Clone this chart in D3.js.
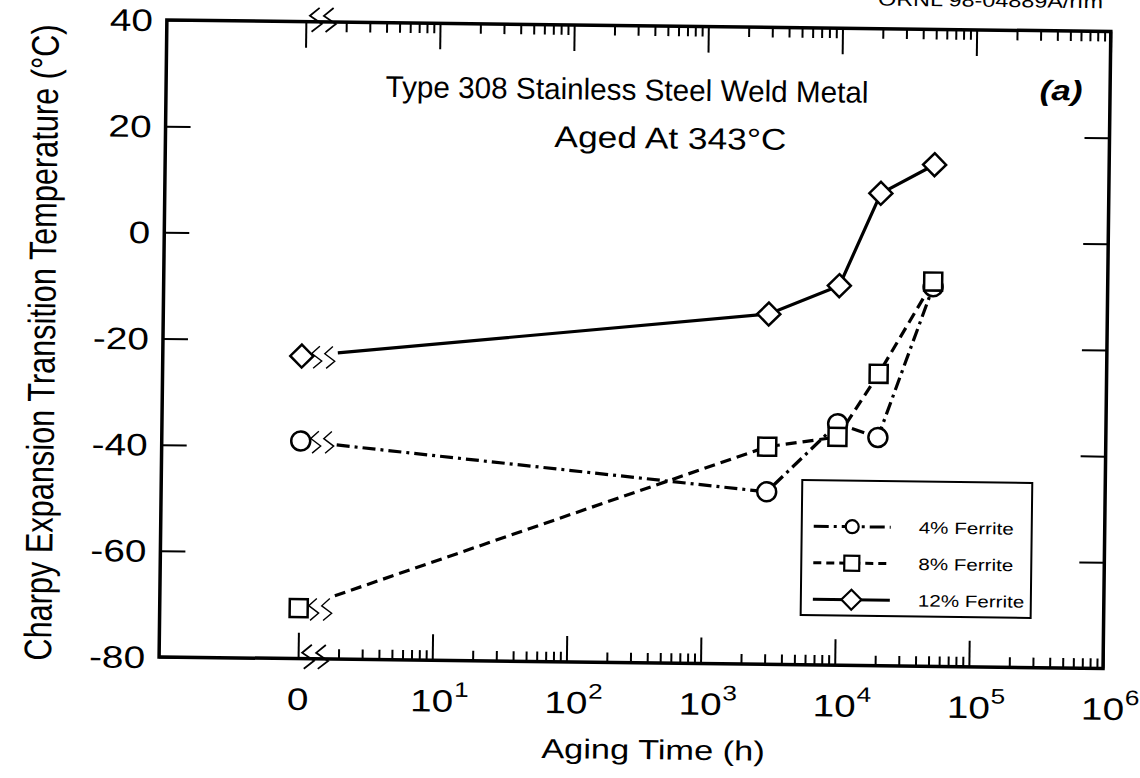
<!DOCTYPE html>
<html><head><meta charset="utf-8">
<script src="https://cdn.jsdelivr.net/npm/d3@7"></script>
<style>
html,body{margin:0;padding:0;background:#fff;}
svg{display:block;}
text{font-family:"Liberation Sans",Arial,Helvetica,sans-serif;fill:#000;}
</style></head><body>
<svg id="chart" width="1140" height="778"></svg>
<script>
// Aging times in hours (0 = unaged material, drawn at the axis break)
const agingTimes = [0, 3000, 10000, 20000, 50000];
const seriesNames = ["4% Ferrite", "8% Ferrite", "12% Ferrite"];
const ferrite4  = [-39, -47.5, -34.5, -37, -8.5];
const ferrite8  = [-70.5, -39, -37, -25, -7.5];
const ferrite12 = [-23, -14, -8.5, 9, 14.5];
const yTickValues = [40, 20, 0, -20, -40, -60, -80];
const xTickValues = [1, 10, 100, 1e3, 1e4, 1e5, 1e6];
const xTickBase = ["0", "10", "10", "10", "10", "10", "10"];
const xTickSup  = ["", "1", "2", "3", "4", "5", "6"];
const titleLines = ["Type 308 Stainless Steel Weld Metal", "Aged At 343\u00B0C"];

const SX = 1.25; // horizontal stretch of the lettering
const svg = d3.select("#chart");
svg.append("rect").attr("width", 1140).attr("height", 778).attr("fill", "#fff");
const g = svg.append("g").attr("transform", "rotate(0.7,632,340)");

const x = d3.scaleLog().domain([1, 1e6]).range([302, 1107]);
const y = d3.scaleLinear().domain([-80, 40]).range([662.7, 25.7]);
const xPos = t => x(t === 0 ? 1 : t);
const frameLeft = 163, frameRight = x(1e6), frameTop = y(40), frameBottom = y(-80);

function sText(parent, px, py, str, size, anchor, sx) {
  const gg = parent.append("g").attr("transform", `translate(${px},${py}) scale(${sx || SX},1)`);
  return gg.append("text").attr("font-size", size).attr("text-anchor", anchor).text(str);
}

// frame
g.append("rect").attr("x", frameLeft).attr("y", frameTop)
  .attr("width", frameRight - frameLeft).attr("height", frameBottom - frameTop)
  .attr("fill", "none").attr("stroke", "#000").attr("stroke-width", 3.5);

// log ticks
const minorVals = [];
for (let d = 0; d < 6; d++) for (let k = 2; k <= 9; k++) minorVals.push(k * Math.pow(10, d));

function styleAxis(sel) {
  sel.select(".domain").remove();
  sel.selectAll(".tick line").attr("stroke", "#000").attr("stroke-width", 2);
  sel.selectAll(".tick text").remove();
}
g.append("g").attr("transform", `translate(0,${frameBottom})`)
  .call(d3.axisTop(x).tickValues(xTickValues).tickSize(26).tickFormat("")).call(styleAxis);
g.append("g").attr("transform", `translate(0,${frameBottom})`)
  .call(d3.axisTop(x).tickValues(minorVals).tickSize(10).tickFormat("")).call(styleAxis);
g.append("g").attr("transform", `translate(0,${frameTop})`)
  .call(d3.axisBottom(x).tickValues(xTickValues).tickSize(26).tickFormat("")).call(styleAxis);
g.append("g").attr("transform", `translate(0,${frameTop})`)
  .call(d3.axisBottom(x).tickValues(minorVals).tickSize(10).tickFormat("")).call(styleAxis);
g.append("g").attr("transform", `translate(${frameLeft},0)`)
  .call(d3.axisRight(y).tickValues(yTickValues).tickSize(25).tickFormat("")).call(styleAxis);
g.append("g").attr("transform", `translate(${frameRight},0)`)
  .call(d3.axisLeft(y).tickValues(yTickValues).tickSize(25).tickFormat("")).call(styleAxis);

// break marks
function breakMark(parent, bx, by, h, w, sw) {
  const pts = [[0.8 * w, -h / 2], [0, -h / 6], [w, h / 6], [0.15 * w, h / 2]];
  parent.append("path")
    .attr("d", d3.line()(pts.map(p => [bx + p[0], by + p[1]])))
    .attr("fill", "none").attr("stroke", "#000").attr("stroke-width", sw);
}
[frameTop, frameBottom].forEach(yy => {
  breakMark(g, x(1) + 4, yy - 2, 24, 12, 1.8);
  breakMark(g, x(1) + 18, yy - 2, 24, 12, 1.8);
});

// tick labels
yTickValues.forEach(v => {
  sText(g, 149, y(v), String(v), 31, "end").attr("dy", "0.36em");
});
xTickValues.forEach((v, i) => {
  const gg = g.append("g").attr("transform", `translate(${x(v)},714) scale(${SX},1)`);
  const base = gg.append("text").attr("font-size", 31).attr("text-anchor", "middle").text(xTickBase[i]);
  if (xTickSup[i]) {
    const w = base.node().getComputedTextLength();
    gg.append("text").attr("font-size", 21).attr("x", w / 2 + 0.5).attr("y", -15).text(xTickSup[i]);
  }
});

// axis titles
sText(g, 658, 759, "Aging Time (h)", 27.5, "middle");
g.append("g").attr("transform", `translate(55,349.7) scale(${SX},1) rotate(-90)`)
  .append("text").attr("font-size", 30.7).attr("text-anchor", "middle")
  .text("Charpy Expansion Transition Temperature (\u00B0C)");

// chart title and panel label
sText(g, 624, 100, titleLines[0], 30, "middle", 1)
  .attr("textLength", 483).attr("lengthAdjust", "spacingAndGlyphs");
sText(g, 668, 148, titleLines[1], 30, "middle", 1)
  .attr("textLength", 232).attr("lengthAdjust", "spacingAndGlyphs");
sText(g, 1058, 95, "(a)", 28, "middle").attr("font-weight", "bold").attr("font-style", "italic");
sText(g, 1099, 2.5, "ORNL 98-04889A/rfm", 18.7, "end");

// series
const series = [
  { name: seriesNames[0], values: ferrite4, dash: "13,5,3,5", marker: "circle" },
  { name: seriesNames[1], values: ferrite8, dash: "11,6", marker: "square" },
  { name: seriesNames[2], values: ferrite12, dash: null, marker: "diamond" }
];
const breakGap = 36;
const lineGen = d3.line().x(d => d[0]).y(d => d[1]);

function drawMarker(parent, type, mx, my, size, sw) {
  if (type === "circle") {
    parent.append("circle").attr("cx", mx).attr("cy", my).attr("r", size / 2)
      .attr("fill", "#fff").attr("stroke", "#000").attr("stroke-width", sw);
  } else if (type === "square") {
    parent.append("rect").attr("x", mx - size / 2).attr("y", my - size / 2)
      .attr("width", size).attr("height", size)
      .attr("fill", "#fff").attr("stroke", "#000").attr("stroke-width", sw);
  } else {
    const h = size / 2;
    parent.append("path")
      .attr("d", `M${mx},${my - h}L${mx + h},${my}L${mx},${my + h}L${mx - h},${my}Z`)
      .attr("fill", "#fff").attr("stroke", "#000").attr("stroke-width", sw);
  }
}
const markerSize = { circle: 19, square: 18, diamond: 23 };

series.forEach(s => {
  const pts = agingTimes.map((t, i) => [xPos(t), y(s.values[i])]);
  const p0 = pts[0], p1 = pts[1];
  const sx = x(1) + breakGap;
  const f = (sx - p0[0]) / (p1[0] - p0[0]);
  const start = [sx, p0[1] + f * (p1[1] - p0[1])];
  const path = g.append("path").attr("d", lineGen([start].concat(pts.slice(1))))
    .attr("fill", "none").attr("stroke", "#000").attr("stroke-width", 3.2);
  if (s.dash) path.attr("stroke-dasharray", s.dash);
  breakMark(g, p0[0] + 10, p0[1] + 1, 22, 10, 1.4);
  breakMark(g, p0[0] + 23, p0[1] + 1, 22, 10, 1.4);
});
["diamond", "circle", "square"].forEach(type => {
  const s = series.find(d => d.marker === type);
  agingTimes.forEach((t, i) => drawMarker(g, type, xPos(t), y(s.values[i]), markerSize[type], 2.5));
});

// legend
const legend = g.append("g");
legend.append("rect").attr("x", 804).attr("y", 478).attr("width", 230).attr("height", 135)
  .attr("fill", "#fff").attr("stroke", "#000").attr("stroke-width", 2);
const legendMarker = { circle: 13, square: 15, diamond: 20 };
series.forEach((s, i) => {
  const ly = 524 + i * 36.5;
  const ln = legend.append("path").attr("d", `M816,${ly}L893,${ly}`)
    .attr("stroke", "#000").attr("stroke-width", 3).attr("fill", "none");
  if (s.dash) ln.attr("stroke-dasharray", s.dash === "11,6" ? "8,5" : "15,5,3,5");
  drawMarker(legend, s.marker, 854.5, ly, legendMarker[s.marker], 2.2);
  sText(legend, 921, ly, s.name, 16.5, "start").attr("dy", "0.36em");
});
</script>
</body></html>
